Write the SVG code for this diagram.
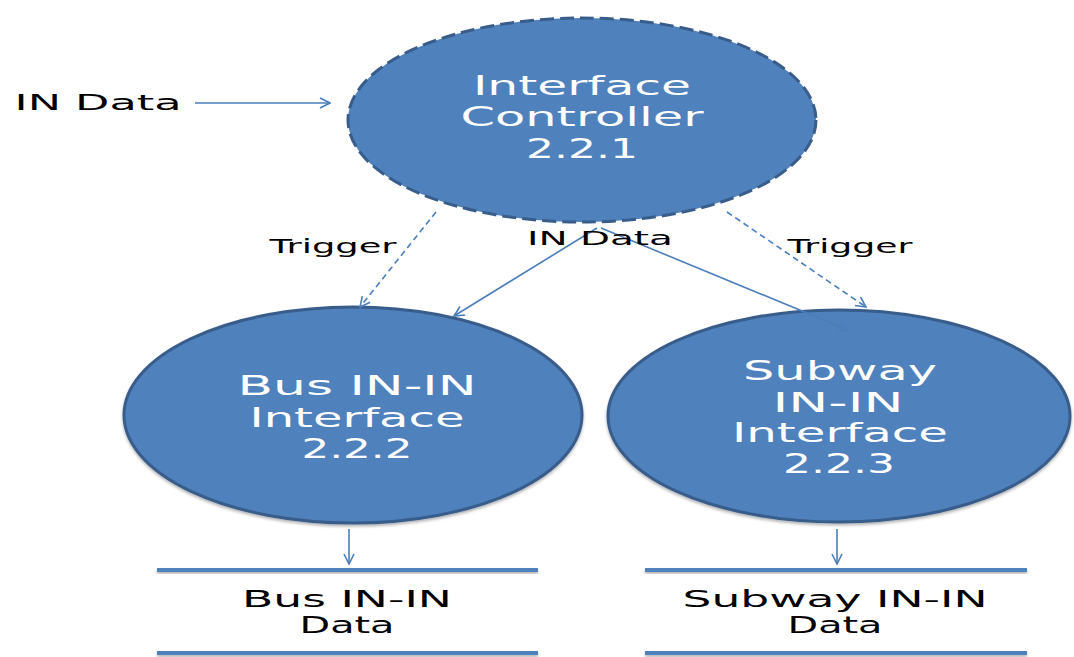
<svg xmlns="http://www.w3.org/2000/svg" width="1074" height="657" viewBox="0 0 1074 657">
<style>
.node{fill:#4f81bd;stroke:#385d8a;stroke-width:3}
.dash{stroke-dasharray:14 6}
.wt{fill:#ffffff;font-family:"DejaVu Sans","Liberation Sans",sans-serif;font-size:27px;text-anchor:middle}
.bt{fill:#000000;font-family:"DejaVu Sans","Liberation Sans",sans-serif;text-anchor:middle}
.c{stroke:#4a7ebb;stroke-width:1.6;fill:none;marker-end:url(#ah)}
.cd{stroke-dasharray:6 4}
.store{fill:#4f81bd}
</style>
<defs>
<marker id="ah" viewBox="0 0 12 12" refX="11" refY="6" markerWidth="12" markerHeight="12" markerUnits="userSpaceOnUse" orient="auto">
<path d="M1,1 L11,6 L1,11" fill="none" stroke="#4a7ebb" stroke-width="1.6"/>
</marker>
<filter id="sh" x="-10%" y="-20%" width="120%" height="160%">
<feDropShadow dx="0" dy="2" stdDeviation="1.5" flood-color="#000" flood-opacity="0.3"/>
</filter>
</defs>
<g id="controller">
<ellipse class="node dash" cx="582" cy="120" rx="234" ry="102"/>
<text class="wt" x="582" y="95" textLength="218" lengthAdjust="spacingAndGlyphs">Interface</text>
<text class="wt" x="582" y="126" textLength="243" lengthAdjust="spacingAndGlyphs">Controller</text>
<text class="wt" x="582" y="158" textLength="112" lengthAdjust="spacingAndGlyphs">2.2.1</text>
</g>
<g id="bus">
<ellipse class="node" cx="353" cy="415" rx="229" ry="108" filter="url(#sh)"/>
<text class="wt" x="357" y="395" textLength="239" lengthAdjust="spacingAndGlyphs">Bus IN-IN</text>
<text class="wt" x="357" y="427" textLength="215" lengthAdjust="spacingAndGlyphs">Interface</text>
<text class="wt" x="357" y="458" textLength="111" lengthAdjust="spacingAndGlyphs">2.2.2</text>
</g>
<g id="subway">
<ellipse class="node" cx="839" cy="416" rx="231" ry="106" filter="url(#sh)"/>
<text class="wt" x="840" y="380" textLength="194" lengthAdjust="spacingAndGlyphs">Subway</text>
<text class="wt" x="838" y="412" textLength="131" lengthAdjust="spacingAndGlyphs">IN-IN</text>
<text class="wt" x="840" y="442" textLength="216" lengthAdjust="spacingAndGlyphs">Interface</text>
<text class="wt" x="839" y="473" textLength="112" lengthAdjust="spacingAndGlyphs">2.2.3</text>
</g>
<g id="bus-store">
<rect class="store" x="157" y="568" width="381" height="4" filter="url(#sh)"/>
<rect class="store" x="157" y="651" width="381" height="4" filter="url(#sh)"/>
<text class="bt" x="347" y="607" font-size="23" textLength="210" lengthAdjust="spacingAndGlyphs">Bus IN-IN</text>
<text class="bt" x="347" y="633" font-size="23" textLength="95" lengthAdjust="spacingAndGlyphs">Data</text>
</g>
<g id="subway-store">
<rect class="store" x="645" y="568" width="382" height="4" filter="url(#sh)"/>
<rect class="store" x="645" y="651" width="382" height="4" filter="url(#sh)"/>
<text class="bt" x="835" y="607" font-size="23" textLength="305" lengthAdjust="spacingAndGlyphs">Subway IN-IN</text>
<text class="bt" x="835" y="633" font-size="23" textLength="95" lengthAdjust="spacingAndGlyphs">Data</text>
</g>
<g id="connectors">
<line class="c" x1="195" y1="103" x2="330" y2="103"/>
<line class="c cd" x1="436" y1="212" x2="360" y2="307"/>
<line class="c" x1="597" y1="228" x2="454" y2="316"/>
<line class="c" x1="601" y1="228" x2="848" y2="330"/>
<line class="c cd" x1="727" y1="212" x2="866" y2="307"/>
<line class="c" x1="349" y1="529" x2="349" y2="564"/>
<line class="c" x1="837" y1="529" x2="837" y2="564"/>
</g>
<g id="labels">
<text class="bt" x="98" y="110" font-size="21" textLength="167" lengthAdjust="spacingAndGlyphs">IN Data</text>
<text class="bt" x="333" y="253" font-size="20" textLength="127" lengthAdjust="spacingAndGlyphs">Trigger</text>
<text class="bt" x="600" y="245" font-size="20" textLength="146" lengthAdjust="spacingAndGlyphs">IN Data</text>
<text class="bt" x="850" y="253" font-size="20" textLength="125" lengthAdjust="spacingAndGlyphs">Trigger</text>
</g>
</svg>
